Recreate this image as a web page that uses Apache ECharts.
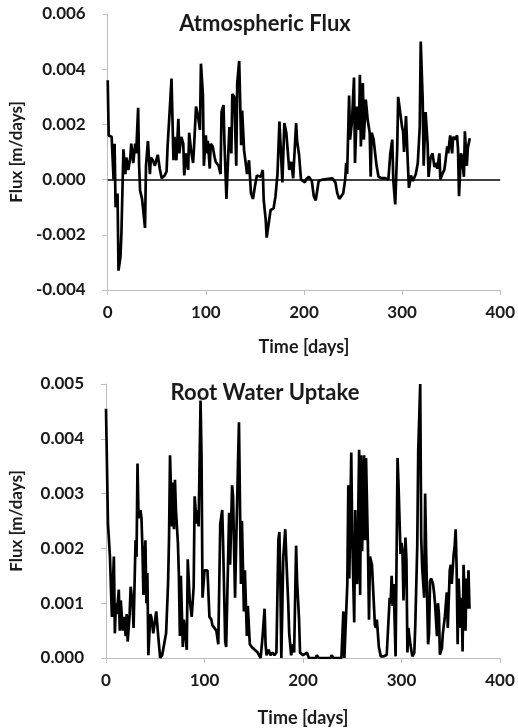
<!DOCTYPE html>
<html>
<head>
<meta charset="utf-8">
<script src="https://cdn.jsdelivr.net/npm/echarts@6/dist/echarts.min.js"></script>
<style>
html,body{margin:0;padding:0;background:#fff;}
#chart{width:518px;height:728px;}
</style>
</head>
<body>
<div id="chart"></div>
<script>
// Atmospheric flux [m/days] vs time [days]
const atmDays = [0,1,4,6,7,8,10,11,13,14,16,18,19,21,23,24,26,28,29,31,32,33,35,38,39,41,43,44,46,48,50,51,53,55,58,60,61,63,65,67,68,70,72,73,75,77,78,80,82,83,85,87,88,90,92,94,95,97,98,100,101,102,104,105,107,109,110,113,115,116,118,119,121,123,124,126,127,129,131,132,134,136,137,139,141,142,144,146,148,150,152,154,156,158,159,161,162,164,166,169,171,173,175,176,178,180,182,184,185,187,189,192,193,195,197,198,201,202,205,208,210,212,214,215,219,229,232,234,236,238,240,242,243,244,246,247,249,251,252,254,256,257,258,260,261,263,265,267,268,269,271,273,274,276,279,283,286,288,290,291,293,295,296,298,300,301,302,304,306,307,309,311,314,316,318,319,321,322,324,326,327,329,331,333,334,336,338,339,341,343,344,346,347,349,351,352,354,356,357,358,360,361,363,364,366,367,369];
const atmFlux = [0.0036,0.0016,0.00155,0.0,0.0013,-0.001,-0.0005,-0.0033,-0.0028,-0.0019,0.0011,0.0002,0.0008,0.00035,0.0008,0.0013,0.0006,0.0013,0.00095,0.0026,0.0005,-0.0004,-0.0007,-0.00175,0.0005,0.0014,0.0002,0.0008,0.0007,0.0005,0.0005,0.0009,0.0004,0.00005,0.00015,0.0003,0.0012,0.0024,0.00366,0.0007,0.00155,0.0007,0.0022,0.00095,0.00155,0.0013,0.00015,0.00095,0.00035,0.0017,0.00105,0.0006,0.0012,0.00265,0.0023,0.0018,0.0042,0.0031,0.0005,0.0016,0.00095,0.0014,0.0004,0.0013,0.0012,0.0008,0.00065,0.0005,0.0002,0.00245,0.0027,0.0013,-0.0007,-0.00075,0.0019,0.00095,0.0031,0.003,0.0005,0.0035,0.0043,0.00125,0.0025,0.00105,0.0005,0.0002,0.0007,-0.0005,-0.0007,-0.00025,0.00015,0.00015,0.0001,0.00035,-0.00075,-0.00145,-0.0021,-0.0016,-0.0011,-0.00105,-0.0006,0.0002,0.0021,0.0021,-0.0001,0.00205,0.0017,0.0008,0.00035,0.00065,0.00005,0.00205,0.0014,0.0009,0.0,-0.00005,-0.0001,0.0,0.0001,-0.00005,-0.0006,-0.00075,-0.00075,-0.00005,0.0,0.00005,-0.0001,-0.0005,-0.0007,-0.00075,-0.0005,0.0,0.0006,0.0002,0.00305,0.00145,0.00215,0.0037,0.0006,0.00265,0.0018,0.0038,0.0012,0.0035,0.00145,0.0029,0.00215,0.0017,0.0001,0.0017,0.00145,0.0008,0.0005,0.0001,0.00005,0.00005,0.0,0.00095,0.00145,0.0,-0.0009,0.0011,0.003,0.00305,0.0019,0.00175,0.001,0.0023,0.00045,-0.0003,0.00015,-0.00005,0.0002,0.0006,0.0019,0.005,0.0029,0.0005,0.00245,0.0013,0.0001,0.0008,0.00095,0.00045,0.0006,0.0004,0.00095,0.0,0.0002,0.00035,0.0006,0.0012,0.00095,0.0016,0.00095,0.00155,0.00145,0.0016,0.0011,-0.0006,0.00095,0.00085,0.0001,0.00175,0.0005,0.00115,0.0015];

// Root water uptake [m/days] vs time [days]
const rwuDays = [0,2,4,6,7,8,9,10,11,13,14,15,17,18,20,21,22,24,25,27,28,30,31,32,33,35,36,37,38,40,41,42,43,45,46,48,49,51,53,55,57,59,61,63,64,65,67,68,69,70,71,73,74,75,76,78,79,80,82,83,85,87,89,90,92,93,94,96,97,98,100,101,103,105,107,108,112,114,116,118,119,121,122,124,125,126,128,129,131,132,134,135,137,138,140,141,143,144,146,148,151,154,156,157,159,161,162,163,165,167,169,171,173,175,176,177,178,180,182,183,185,186,188,190,191,193,194,196,197,200,201,204,206,213,214,216,228,229,231,239,241,242,245,246,247,249,250,252,253,254,255,257,258,259,260,262,263,264,266,267,268,270,271,273,274,275,277,279,282,285,287,288,289,290,291,292,294,296,297,299,300,301,302,304,305,306,307,309,310,311,313,314,316,317,319,320,321,323,324,325,327,328,329,330,332,333,334,336,337,338,339,341,342,344,346,347,349,350,351,353,354,355,356,357,358,360,361,362,363,365,366,367,368,369];
const rwuFlux = [0.00455,0.00245,0.00185,0.00075,0.00135,0.00185,0.00045,0.001,0.0008,0.00125,0.0005,0.00105,0.0005,0.00075,0.0004,0.0008,0.0003,0.0008,0.0013,0.001,0.00055,0.00215,0.00185,0.00355,0.00255,0.0027,0.00255,0.002,0.00115,0.00215,0.001,0.00155,0.00005,0.0008,0.00075,0.00045,0.00045,0.00085,0.0004,0.0,0.00005,0.00025,0.00045,0.00135,0.0022,0.0037,0.0024,0.0032,0.00235,0.00325,0.0027,0.0021,0.0015,0.0004,0.0015,0.0002,0.0007,0.00055,0.00015,0.0018,0.00105,0.00075,0.0013,0.00295,0.00245,0.0027,0.0024,0.0047,0.00365,0.0011,0.0016,0.0016,0.0016,0.00075,0.0007,0.0006,0.0005,0.00025,0.00245,0.0027,0.002,0.0003,0.0002,0.0002,0.00265,0.0017,0.00315,0.00295,0.0011,0.00195,0.00355,0.0043,0.00135,0.0025,0.00085,0.0016,0.0004,0.00095,0.00025,0.0002,0.00015,0.0001,0.0001,0.0,0.0004,0.0009,0.00025,0.00005,0.00015,0.00005,0.0001,0.00005,0.0001,0.00215,0.0023,0.0014,0.0,0.00185,0.00235,0.00185,0.001,0.00045,0.00005,0.00025,0.0001,0.00205,0.0014,0.0007,0.0001,0.00005,0.00002,0.0001,0.0,0.0,0.00005,0.0,0.0,0.00005,0.0,0.0,0.00085,0.0,0.00135,0.00315,0.00145,0.00375,0.0022,0.00065,0.0027,0.00145,0.00135,0.0038,0.00115,0.0037,0.00195,0.0037,0.00215,0.00365,0.00195,0.0007,0.00185,0.0017,0.0017,0.0006,0.00055,0.0007,0.0002,0.00003,0.00003,0.00006,0.00003,0.0011,0.001,0.0015,0.00095,0.00135,0.00003,0.00365,0.00315,0.0019,0.0021,0.00195,0.00105,0.0022,0.0018,0.0001,0.00055,0.00025,0.00028,0.00003,0.0001,0.0006,0.00205,0.0038,0.005,0.0022,0.00165,0.0011,0.003,0.00195,0.00025,0.00045,0.0014,0.00145,0.00135,0.0012,0.001,0.0004,0.001,0.0008,0.00006,0.00018,0.00045,0.00075,0.0012,0.00055,0.0016,0.0017,0.00135,0.0019,0.00205,0.00235,0.0016,0.00025,0.00145,0.00055,0.0011,0.00012,0.0017,0.0005,0.00145,0.0009,0.0016,0.0009];

const xTicks = [0, 100, 200, 300, 400];
const atmTicks = [-0.004, -0.002, 0.000, 0.002, 0.004, 0.006];
const rwuTicks = [0.000, 0.001, 0.002, 0.003, 0.004, 0.005];

const pair = (d, v) => d.map((x, i) => [x, v[i]]);
const FONT = 'Lato';
const TXT = '#1a1a1a';
const AXC = '#bfbfbf';

function xAxisCfg(gi, nameGap) {
  return {
    type: 'value', gridIndex: gi, min: xTicks[0], max: xTicks[xTicks.length - 1], interval: 100,
    name: 'Time [days]', nameLocation: 'middle', nameGap: nameGap,
    nameTextStyle: { fontFamily: FONT, fontWeight: 'bold', fontSize: 18, color: TXT },
    axisLine: { show: true, onZero: false, lineStyle: { color: AXC, width: 1 } },
    axisTick: { show: true, length: 5, lineStyle: { color: AXC } },
    axisLabel: { fontFamily: FONT, fontWeight: 'bold', fontSize: 17, color: TXT, margin: 14 },
    splitLine: { show: false }
  };
}
function yAxisCfg(gi, ticks, interval) {
  return {
    type: 'value', gridIndex: gi, min: ticks[0], max: ticks[ticks.length - 1], interval: interval,
    name: 'Flux [m/days]', nameLocation: 'middle', nameGap: 81,
    nameTextStyle: { fontFamily: FONT, fontWeight: 'bold', fontSize: 17, color: TXT },
    axisLine: { show: true, onZero: false, lineStyle: { color: AXC, width: 1 } },
    axisTick: { show: true, length: 5, lineStyle: { color: AXC } },
    axisLabel: { fontFamily: FONT, fontWeight: 'bold', fontSize: 17, color: TXT, margin: 22,
      formatter: v => v.toFixed(3) },
    splitLine: { show: false }
  };
}

const chart = echarts.init(document.getElementById('chart'), null, { renderer: 'canvas' });
chart.setOption({
  animation: false,
  backgroundColor: '#fff',
  title: [
    { text: 'Atmospheric Flux', left: 260, top: 8, textAlign: 'center',
      textStyle: { fontFamily: FONT, fontWeight: 'bold', fontSize: 22, color: TXT } },
    { text: 'Root Water Uptake', left: 260, top: 377, textAlign: 'center',
      textStyle: { fontFamily: FONT, fontWeight: 'bold', fontSize: 22, color: TXT } }
  ],
  grid: [
    { left: 106, right: 17, top: 14, height: 276 },
    { left: 105, right: 18, top: 384, height: 274 }
  ],
  xAxis: [xAxisCfg(0, 48), xAxisCfg(1, 51)],
  yAxis: [yAxisCfg(0, atmTicks, 0.002), yAxisCfg(1, rwuTicks, 0.001)],
  series: [
    {
      type: 'line', xAxisIndex: 0, yAxisIndex: 0, data: pair(atmDays, atmFlux),
      showSymbol: false, symbol: 'none', lineStyle: { color: '#000', width: 2.7 },
      markLine: {
        silent: true, symbol: ['none', 'none'], label: { show: false },
        lineStyle: { color: '#000', width: 1.5, type: 'solid' },
        data: [{ yAxis: 0 }]
      }
    },
    {
      type: 'line', xAxisIndex: 1, yAxisIndex: 1, data: pair(rwuDays, rwuFlux),
      showSymbol: false, symbol: 'none', lineStyle: { color: '#000', width: 2.7 }
    }
  ]
});
</script>
</body>
</html>
